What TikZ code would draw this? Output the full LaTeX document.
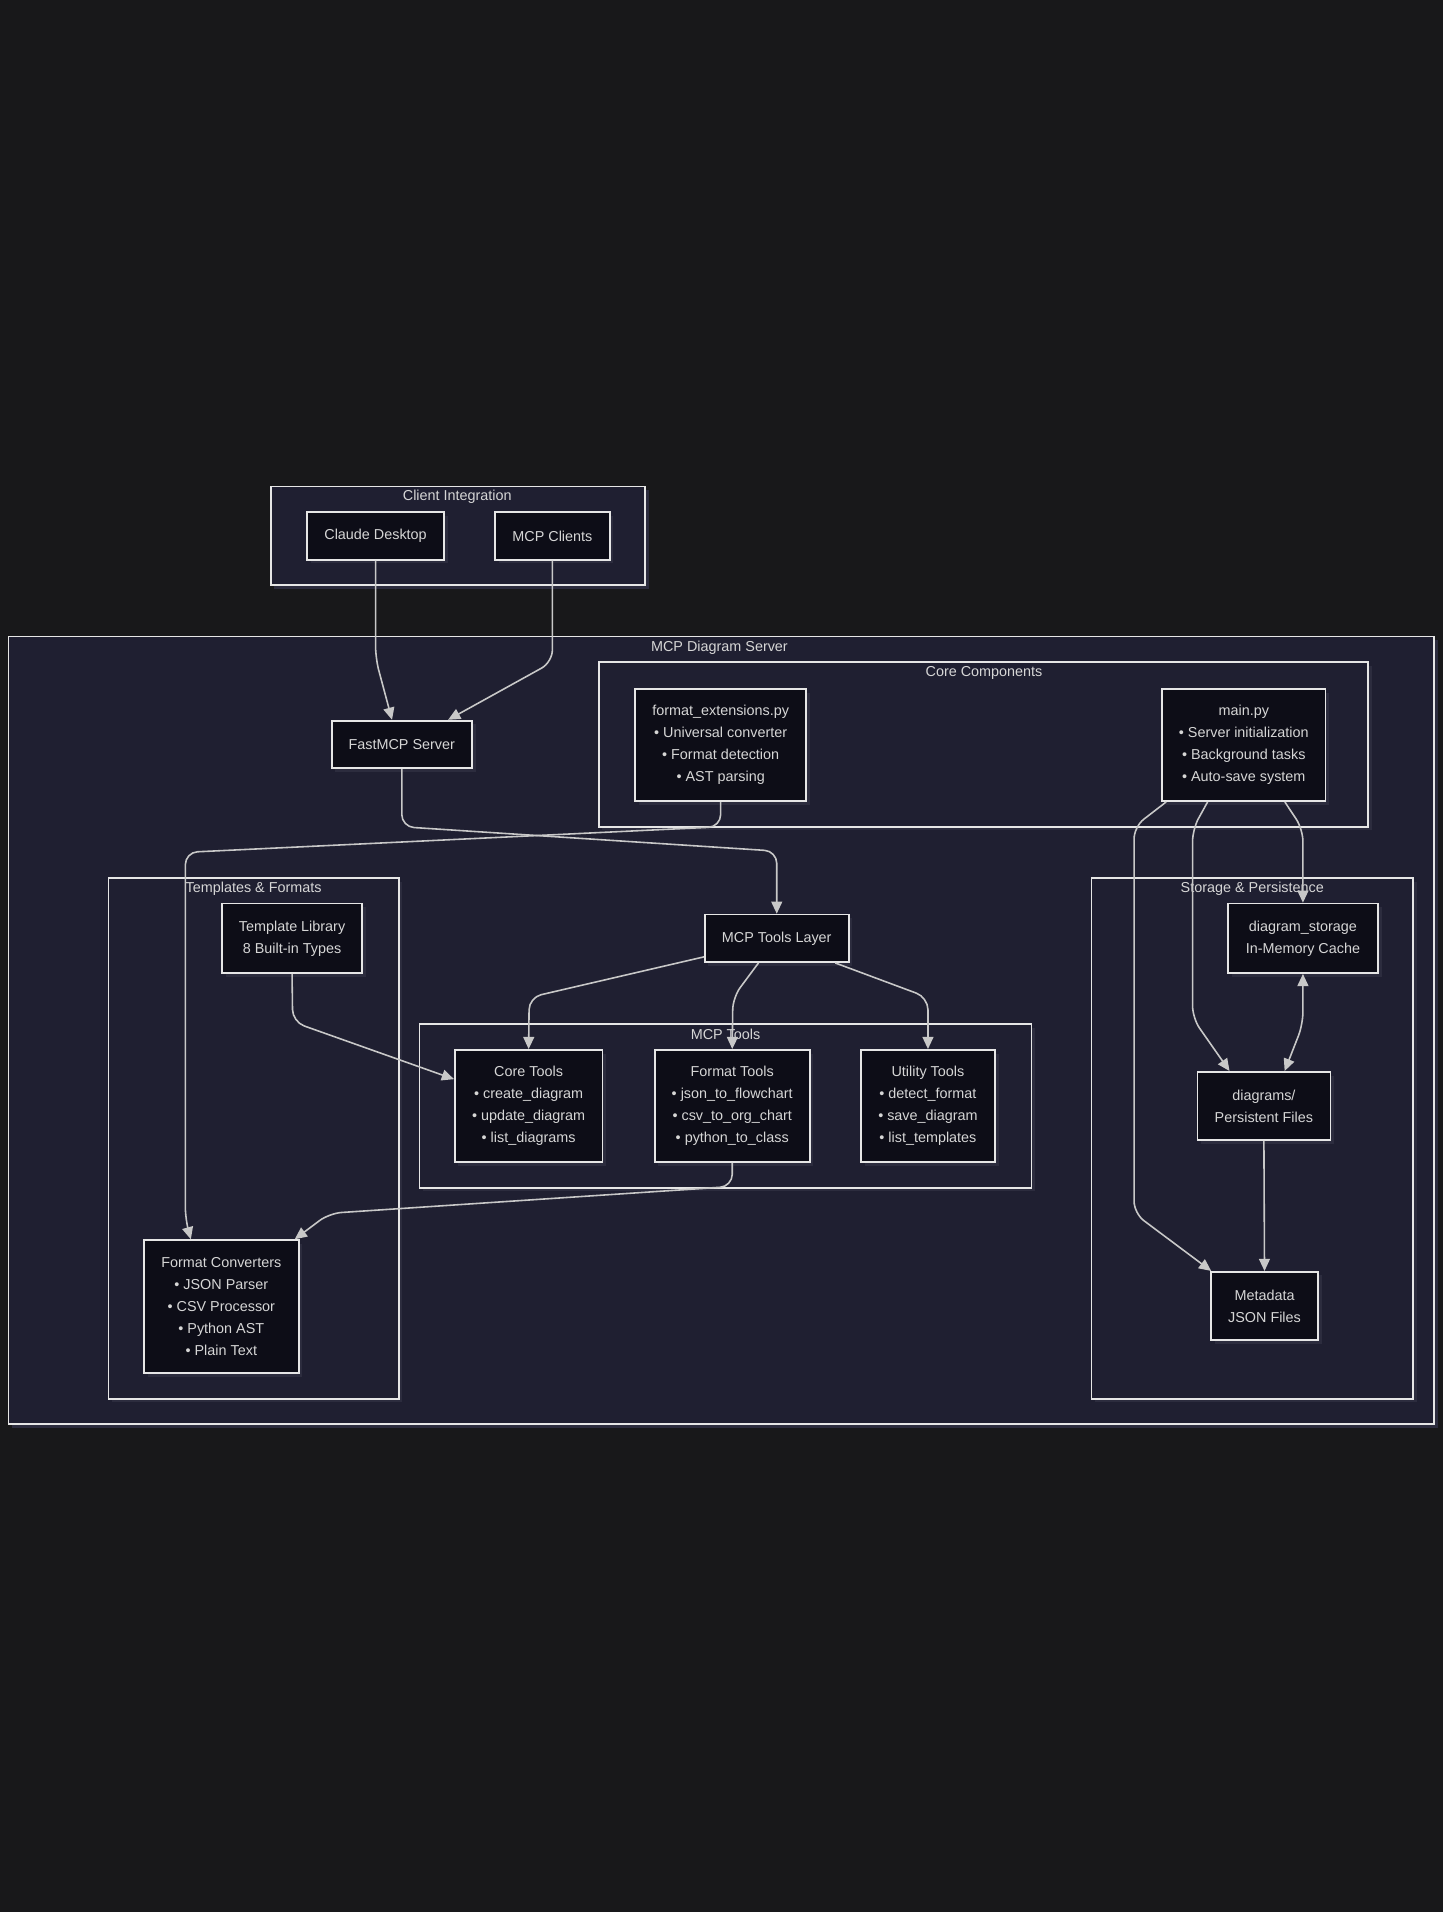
\documentclass[tikz,border=0pt]{standalone}
\usepackage{fontspec}
\setmainfont{Liberation Sans}
\usetikzlibrary{arrows.meta,shadows,calc}
\definecolor{bg}{HTML}{18181A}
\definecolor{clfill}{HTML}{1F1F31}
\definecolor{ndfill}{HTML}{0D0D17}
\definecolor{bord}{HTML}{E6E6E6}
\definecolor{txt}{HTML}{D6D6D6}
\definecolor{edgec}{HTML}{C8C8C8}
\definecolor{shad}{HTML}{2C2C3E}
\begin{document}
\begin{tikzpicture}[x=1pt,y=-1pt,
  font=\fontsize{11.8}{18}\selectfont,
  cluster/.style={draw=bord, fill=clfill, line width=1.4pt, inner sep=0pt,
    general shadow={fill=shad, shadow xshift=3pt, shadow yshift=-3pt}},
  box/.style={draw=bord, fill=ndfill, line width=1.4pt, text=txt, align=center, inner sep=0pt,
    general shadow={fill=shad, shadow xshift=3pt, shadow yshift=-3pt}},
  ttl/.style={text=txt, inner sep=0pt},
  conn/.style={draw=edgec, line width=1.3pt, rounded corners=10pt,
    -{Triangle[length=10pt,width=9pt]}},
  bconn/.style={draw=edgec, line width=1.3pt, rounded corners=10pt,
    {Triangle[length=10pt,width=9pt]}-{Triangle[length=10pt,width=9pt]}}
]
\fill[bg] (0,0) rectangle (1183,1568);
\useasboundingbox (0,0) rectangle (1183,1568);

% clusters
\node[cluster, minimum width=307pt, minimum height=81pt] (ci) at (375.5,439.5) {};
\node[ttl] (citl) at (375,407.5) {Client Integration};
\node[cluster, minimum width=1169pt, minimum height=646pt] (srv) at (591.5,845) {};
\node[ttl] (srvtl) at (590,531.5) {MCP Diagram Server};
\node[cluster, minimum width=631pt, minimum height=135pt] (core) at (806.5,610.5) {};
\node[ttl] (coretl) at (807,552) {Core Components};
\node[cluster, minimum width=238pt, minimum height=427pt] (tpl) at (208,933.5) {};
\node[ttl] (tpltl) at (208,729) {Templates \& Formats};
\node[cluster, minimum width=502pt, minimum height=134pt] (tools) at (595,907) {};
\node[ttl] (toolstl) at (595,848.5) {MCP Tools};
\node[cluster, minimum width=264pt, minimum height=427pt] (stor) at (1027,933.5) {};
\node[ttl] (stortl) at (1027,729) {Storage \& Persistence};

% nodes
\node[box, minimum width=112pt, minimum height=39pt] (cd) at (308,439.5) {Claude Desktop};
\node[box, minimum width=94pt, minimum height=39pt] (mc) at (453,439.5) {MCP Clients};
\node[box, minimum width=115pt, minimum height=39pt] (fast) at (329.5,610.5) {FastMCP Server};
\node[box, minimum width=140pt, minimum height=92pt] (fe) at (591,611) {format\_extensions.py\\• Universal converter\\• Format detection\\• AST parsing};
\node[box, minimum width=134pt, minimum height=92pt] (main) at (1020,611) {main.py\\• Server initialization\\• Background tasks\\• Auto-save system};
\node[box, minimum width=115pt, minimum height=57pt] (tlib) at (239.5,769.5) {Template Library\\8 Built-in Types};
\node[box, minimum width=127pt, minimum height=109pt] (fc) at (181.5,1071.5) {Format Converters\\• JSON Parser\\• CSV Processor\\• Python AST\\• Plain Text};
\node[box, minimum width=118pt, minimum height=39pt] (tl) at (637,769.5) {MCP Tools Layer};
\node[box, minimum width=121pt, minimum height=92pt] (ct) at (433.5,907) {Core Tools\\• create\_diagram\\• update\_diagram\\• list\_diagrams};
\node[box, minimum width=127pt, minimum height=92pt] (ft) at (600.5,907) {Format Tools\\• json\_to\_flowchart\\• csv\_to\_org\_chart\\• python\_to\_class};
\node[box, minimum width=110pt, minimum height=92pt] (ut) at (761,907) {Utility Tools\\• detect\_format\\• save\_diagram\\• list\_templates};
\node[box, minimum width=123pt, minimum height=57pt] (ds) at (1068.5,769.5) {diagram\_storage\\In-Memory Cache};
\node[box, minimum width=109pt, minimum height=56pt] (dg) at (1036.5,907) {diagrams/\\Persistent Files};
\node[box, minimum width=88pt, minimum height=56pt] (meta) at (1037,1071) {Metadata\\JSON Files};

% connectors
\draw[conn] (cd.south) -- (308,540) -- ([xshift=-8pt]fast.north);
\draw[conn] (mc.south) -- (453,543) -- ([xshift=38pt]fast.north);
\draw[conn] (fast.south) -- (329.5,678) -- (637,698) -- (tl.north);
\draw[conn] (fe.south) -- (591,678) -- (152,699) -- (152,1000) -- ([xshift=-25pt]fc.north);
\draw[conn] ([yshift=5pt]tl.south west) -- (434,818) -- (ct.north);
\draw[conn] ([xshift=-15pt]tl.south) -- (601,818) -- (ft.north);
\draw[conn] ([xshift=48pt]tl.south) -- (761,818) -- (ut.north);
\draw[conn] (tlib.south) -- (240,838) -- ([yshift=22pt]ct.west);
\draw[conn] (ft.south) -- (600.5,973) -- (270,995) -- ([xshift=-4pt]fc.north east);
\draw[conn] ([xshift=4pt]main.south west) -- (930,678) -- (930,995) -- ([xshift=1pt]meta.north west);
\draw[conn] ([xshift=38pt]main.south west) -- (978,680) -- (978,835) -- ([xshift=27pt]dg.north west);
\draw[conn] ([xshift=-34pt]main.south east) -- (1068.5,680) -- (ds.north);
\draw[bconn] (ds.south) -- (1068.5,840) -- ([xshift=17pt]dg.north);
\draw[conn] (dg.south) -- (meta.north);
\end{tikzpicture}
\end{document}
